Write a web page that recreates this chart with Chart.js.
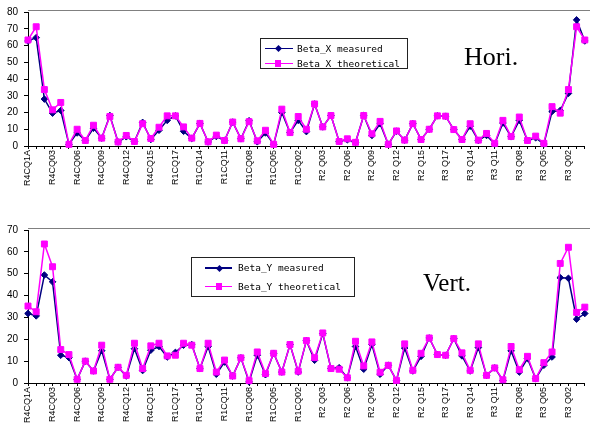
<!DOCTYPE html>
<html>
<head>
<meta charset="utf-8">
<script src="https://cdn.jsdelivr.net/npm/chart.js@4.4.0/dist/chart.umd.min.js"></script>
<style>
body { margin: 0; background: #fff; }
#page { position: relative; width: 590px; height: 423px; overflow: hidden; }
.wrap { position: absolute; left: 0; width: 590px; }
.legend { position: absolute; border: 1px solid #222; background: #fff; box-sizing: border-box; }
.legend .row { position: absolute; left: 0; right: 0; height: 0; }
.legend .line { position: absolute; height: 1.5px; top: -0.75px; }
.legend .mark { position: absolute; }
.legend .txt { position: absolute; top: -7px; font: 9.5px "DejaVu Sans Mono", monospace; line-height: 14px; white-space: nowrap; color: #000; }
.plane { position: absolute; font-family: "Liberation Serif", "Times New Roman", serif; color: #000; line-height: 1; }
</style>
</head>
<body>
<div id="page">
  <div class="wrap" style="top:0;height:188px"><canvas id="horiChart"></canvas></div>
  <div class="wrap" style="top:218px;height:205px"><canvas id="vertChart"></canvas></div>
  <div class="plane" style="left:464px;top:44px;font-size:26px">Hori.</div>
  <div class="plane" style="left:423px;top:270px;font-size:25px">Vert.</div>
</div>
<script>
// quadrupole names along the ring, one per measured point
const quadNames = [
  "R4CQ1A", "R4CQ01", "R4CQ02", "R4CQ03", "R4CQ04", "R4CQ05", "R4CQ06", "R4CQ07", "R4CQ08",
  "R4CQ09", "R4CQ10", "R4CQ11", "R4CQ12", "R4CQ13", "R4CQ14", "R4CQ15", "R4CQ16", "R4CQ17",
  "R1CQ17", "R1CQ16", "R1CQ15", "R1CQ14", "R1CQ13", "R1CQ12", "R1CQ11", "R1CQ10", "R1CQ09",
  "R1CQ08", "R1CQ07", "R1CQ06", "R1CQ05", "R1CQ04", "R1CQ03", "R1CQ02", "R1CQ01",
  "R2 Q02", "R2 Q03", "R2 Q04", "R2 Q05", "R2 Q06", "R2 Q07", "R2 Q08", "R2 Q09", "R2 Q10",
  "R2 Q11", "R2 Q12", "R2 Q13", "R2 Q14", "R2 Q15", "R2 Q16", "R2 Q17",
  "R3 Q17", "R3 Q16", "R3 Q15", "R3 Q14", "R3 Q13", "R3 Q12", "R3 Q11", "R3 Q10", "R3 Q09",
  "R3 Q08", "R3 Q07", "R3 Q06", "R3 Q05", "R3 Q04", "R3 Q03", "R3 Q02", "R3 Q01", "R3 Q1A"
];

const betaXMeasured = [
  62.7, 64.7, 28, 19.6, 21.2, 1, 7.8, 3.3, 10.6, 4.7, 18.2, 2.4, 5.5, 2.7, 14.1, 3.9, 9.4, 15.3,
  18, 8.8, 4.5, 13.5, 2.4, 5.7, 3.3, 14.3, 4.3, 15.1, 2.5, 7.8, 1, 20, 8, 15.3, 8.6,
  25.1, 11.4, 18.2, 2.7, 3.7, 2.2, 18.2, 6.3, 13.3, 1, 8.8, 3.5, 13.3, 3.9, 10, 18,
  17.8, 9.8, 3.9, 11.8, 3.3, 6.3, 1.2, 13.7, 5.5, 15.3, 3.2, 4.9, 1.2, 20.6, 21.2, 31.4, 75.3, 62.7
];
const betaXTheoretical = [
  63.3, 71.2, 33.7, 21.6, 26, 1, 10, 3.3, 12.4, 4.7, 17.6, 2.4, 6.3, 2.7, 13.3, 4.5, 11.2, 18,
  18, 11.4, 4.7, 13.5, 2.5, 6.5, 3.3, 14.3, 4.3, 14.5, 3.1, 9.4, 1, 22, 8, 17.6, 10,
  25.1, 11.4, 18.2, 2.7, 4.3, 2.2, 18.2, 7.3, 14.7, 1, 9, 3.5, 13.3, 3.9, 10, 18,
  17.8, 9.8, 3.9, 13.3, 3.5, 7.5, 1.6, 15.3, 5.7, 17.3, 3.3, 5.9, 1.6, 23.5, 19.6, 33.7, 71.2, 63.3
];
const betaYMeasured = [
  31.8, 30.7, 49.4, 46.3, 12.7, 11.6, 1.7, 10, 5.5, 14.8, 1.7, 7.2, 3.2, 15.7, 5.7, 15, 16.7, 11.9,
  14, 17.3, 17.6, 6.6, 16.7, 4, 9.6, 3.2, 11.5, 0.5, 12.7, 3.8, 13.6, 5, 17.6, 5, 19.4,
  10.4, 22.6, 6.6, 7, 2.4, 16.7, 6.3, 17.6, 4, 8.1, 1.2, 16, 5.5, 12.2, 20.6, 13,
  12.7, 20.3, 12.4, 5.5, 16.2, 3.5, 6.9, 1.2, 14.7, 5, 11.2, 2, 8.1, 11.9, 48.2, 47.9, 29.2, 31.8
];
const betaYTheoretical = [
  35.2, 32.6, 63.6, 53.2, 15.3, 13, 1.7, 10, 5.5, 17.3, 1.7, 7.2, 3.5, 18.2, 6.6, 17, 18.2, 12.4,
  12.7, 18.2, 17.3, 6.6, 18.2, 5, 10.5, 3.2, 11.5, 1.1, 14.2, 4.3, 13.6, 5, 17.6, 5.4, 19.4,
  11.6, 22.9, 6.6, 6.3, 2.4, 19.1, 7.8, 18.8, 4.9, 8.1, 1.2, 17.9, 5.8, 13.6, 20.6, 13,
  12.7, 20.3, 13.8, 5.8, 17.9, 3.5, 6.9, 1.5, 16.7, 6.1, 12.2, 2, 9.3, 14.2, 54.7, 62.1, 32.3, 34.7
];

const measColor = "#000080";
const theoColor = "#ff00ff";

// thin grey line along the top of the plot area
const topFrame = {
    id: "topFrame",
    afterDraw(chart) {
        const a = chart.chartArea;
        const ctx = chart.ctx;
        ctx.save();
        ctx.strokeStyle = "#808080";
        ctx.lineWidth = 1;
        ctx.beginPath();
        ctx.moveTo(a.left, Math.round(a.top) - 1.5);
        ctx.lineTo(chart.width, Math.round(a.top) - 1.5);
        ctx.stroke();
        ctx.restore();
    }
};

function drawChart(id, measured, theoretical, names, yMax, padTop, xHeight)
{
    const ctx = document.getElementById(id).getContext("2d");
    return new Chart(ctx, {
        type: "line",
        data: {
            labels: quadNames,
            datasets: [{
                label: names[0],
                data: measured,
                borderColor: measColor,
                backgroundColor: measColor,
                borderWidth: 1.5,
                pointStyle: "rectRot",
                pointRadius: 3.3,
                pointBorderWidth: 1,
                tension: 0,
                clip: false,
                order: 1
            }, {
                label: names[1],
                data: theoretical,
                borderColor: theoColor,
                backgroundColor: theoColor,
                borderWidth: 1.5,
                pointStyle: "rect",
                pointRadius: 4.2,
                pointBorderWidth: 1,
                tension: 0,
                clip: false,
                order: 0
            }]
        },
        options: {
            responsive: true,
            maintainAspectRatio: false,
            animation: false,
            layout: { padding: { top: padTop, right: 2, left: 0, bottom: 0 } },
            plugins: { legend: { display: false }, tooltip: { enabled: false } },
            scales: {
                x: {
                    offset: false,
                    grid: { display: true, drawOnChartArea: false, drawTicks: true, tickLength: 3, color: "#000" },
                    border: { display: true, color: "#000", width: 1 },
                    ticks: {
                        autoSkip: false,
                        minRotation: 90,
                        maxRotation: 90,
                        padding: 1,
                        color: "#000",
                        font: { family: "Liberation Sans", size: 9 },
                        callback: function(value, index) {
                            return index % 3 === 0 ? quadNames[index] : "";
                        }
                    },
                    afterFit: function(scale) {
                        scale.height = xHeight;
                        scale.paddingLeft = 0;
                        scale.paddingRight = 0;
                    }
                },
                y: {
                    min: 0,
                    max: yMax,
                    grid: { display: true, drawOnChartArea: false, drawTicks: true, tickLength: 4, color: "#000" },
                    border: { display: true, color: "#000", width: 1 },
                    ticks: {
                        stepSize: 10,
                        padding: 6,
                        color: "#000",
                        font: { family: "Liberation Sans", size: 10 }
                    },
                    afterFit: function(scale) {
                        scale.width = 28;
                    }
                }
            }
        },
        plugins: [topFrame]
    });
}

function addLegend(box, names)
{
    const page = document.getElementById("page");
    const el = document.createElement("div");
    el.className = "legend";
    el.style.left = box.left + "px";
    el.style.top = box.top + "px";
    el.style.width = box.width + "px";
    el.style.height = box.height + "px";

    const rows = [
        { name: names[0], color: measColor, diamond: true, y: box.rowY[0] },
        { name: names[1], color: theoColor, diamond: false, y: box.rowY[1] }
    ];
    rows.forEach(r => {
        const row = document.createElement("div");
        row.className = "row";
        row.style.top = r.y + "px";

        const line = document.createElement("div");
        line.className = "line";
        line.style.left = box.lineFrom + "px";
        line.style.width = (box.lineTo - box.lineFrom) + "px";
        line.style.background = r.color;
        row.appendChild(line);

        const mark = document.createElement("div");
        mark.className = "mark";
        const s = r.diamond ? 5 : 6.5;
        mark.style.width = s + "px";
        mark.style.height = s + "px";
        mark.style.left = (box.markX - s / 2) + "px";
        mark.style.top = (-s / 2) + "px";
        mark.style.background = r.color;
        if (r.diamond) mark.style.transform = "rotate(45deg)";
        row.appendChild(mark);

        const txt = document.createElement("div");
        txt.className = "txt";
        txt.style.left = box.textX + "px";
        txt.textContent = r.name;
        row.appendChild(txt);

        el.appendChild(row);
    });
    page.appendChild(el);
}

drawChart("horiChart", betaXMeasured, betaXTheoretical, ["Beta_X measured", "Beta_X theoretical"], 80, 9, 42);
drawChart("vertChart", betaYMeasured, betaYTheoretical, ["Beta_Y measured", "Beta_Y theoretical"], 70, 11, 40);

addLegend({ left: 260, top: 38, width: 148, height: 31, rowY: [9.5, 24.5], lineFrom: 4, lineTo: 32, markX: 17, textX: 36 },
          ["Beta_X measured", "Beta_X theoretical"]);
addLegend({ left: 191, top: 257, width: 164, height: 40, rowY: [10, 28.5], lineFrom: 13, lineTo: 40, markX: 27, textX: 46 },
          ["Beta_Y measured", "Beta_Y theoretical"]);
</script>
</body>
</html>
